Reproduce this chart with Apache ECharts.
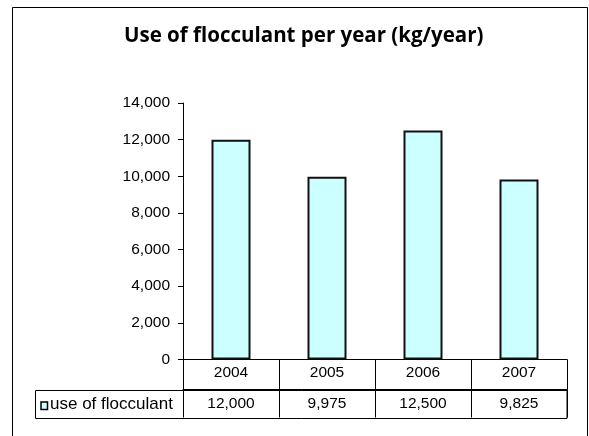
<!DOCTYPE html>
<html>
<head>
<meta charset="utf-8">
<script src="https://cdn.jsdelivr.net/npm/echarts@6/dist/echarts.min.js"></script>
<style>
  html, body { margin: 0; padding: 0; background: #fff; }
  #chart { width: 589px; height: 436px; }
</style>
</head>
<body>
<div id="chart"></div>
<script>
// Flocculant consumption per year, shown as columns with a data table underneath
const years = ['2004', '2005', '2006', '2007'];
const flocculantUse = [12000, 9975, 12500, 9825];
const yTicks = { min: 0, max: 14000, interval: 2000 };
const seriesName = 'use of flocculant';
const chartTitle = 'Use of flocculant per year (kg/year)';

const TEXT_FONT = '"Liberation Sans", Arial, sans-serif';
const TEXT_SIZE = 15.5;
const BAR_FILL = '#CCFFFF';
const fmt = v => v.toLocaleString('en-US');

const chart = echarts.init(document.getElementById('chart'), null, { renderer: 'canvas' });

const option = {
  backgroundColor: '#fff',
  animation: false,
  title: {
    text: chartTitle,
    left: 119,
    top: 21,
    textStyle: {
      fontFamily: '"Open Sans", sans-serif',
      fontWeight: 'bold',
      fontSize: 20.5,
      color: '#000'
    }
  },
  grid: { left: 183, right: 22, top: 103, bottom: 76.5 },
  xAxis: [
    {
      // year row of the data table
      type: 'category',
      data: years,
      position: 'bottom',
      axisLine: { lineStyle: { color: '#000', width: 1 } },
      axisTick: { show: true, length: 30, interval: 0, lineStyle: { color: '#000', width: 1 } },
      axisLabel: {
        interval: 0, margin: 13, verticalAlign: 'middle',
        fontFamily: TEXT_FONT, fontSize: TEXT_SIZE, color: '#000'
      },
      splitLine: { show: false }
    },
    {
      // value row of the data table
      type: 'category',
      data: years,
      position: 'bottom',
      offset: 30,
      axisLine: { lineStyle: { color: '#000', width: 1 } },
      axisTick: { show: true, length: 28, interval: 0, lineStyle: { color: '#000', width: 1 } },
      axisLabel: {
        interval: 0, margin: 14.5, verticalAlign: 'middle',
        fontFamily: TEXT_FONT, fontSize: TEXT_SIZE, color: '#000',
        formatter: (val, idx) => fmt(flocculantUse[idx])
      },
      splitLine: { show: false }
    }
  ],
  yAxis: {
    type: 'value',
    min: yTicks.min,
    max: yTicks.max,
    interval: yTicks.interval,
    axisLine: { show: true, lineStyle: { color: '#000', width: 1 } },
    axisTick: { show: true, length: 5, lineStyle: { color: '#000', width: 1 } },
    axisLabel: {
      margin: 13, fontFamily: TEXT_FONT, fontSize: TEXT_SIZE, color: '#000',
      formatter: v => fmt(v)
    },
    splitLine: { show: false }
  },
  series: [{
    name: seriesName,
    type: 'bar',
    xAxisIndex: 0,
    data: flocculantUse,
    barWidth: 39,
    itemStyle: { color: BAR_FILL, borderColor: '#111', borderWidth: 2 }
  }]
};

chart.setOption(option);

// Table frame, legend cell and outer chart border, placed from the axis scales
const c0 = chart.convertToPixel({ xAxisIndex: 0 }, years[0]);
const c1 = chart.convertToPixel({ xAxisIndex: 0 }, years[1]);
const band = c1 - c0;
const tableLeftX = c0 - band / 2;
const tableRightX = tableLeftX + band * years.length;
const zeroY = chart.convertToPixel({ yAxisIndex: 0 }, 0);
const rowTop = zeroY + 30;
const rowH = 28;
const legendCellLeft = 35.5;

chart.setOption({
  graphic: [
    {
      type: 'rect',
      shape: { x: 12.5, y: 7.5, width: 575, height: 450 },
      style: { fill: null, stroke: '#000', lineWidth: 1 },
      silent: true, z: -1
    },
    {
      type: 'rect',
      shape: { x: legendCellLeft, y: Math.round(rowTop) + 0.5, width: Math.round(tableRightX) - legendCellLeft, height: rowH },
      style: { fill: null, stroke: '#000', lineWidth: 1 },
      silent: true
    },
    {
      type: 'line',
      shape: { x1: Math.round(tableLeftX) + 0.5, y1: Math.round(zeroY), x2: Math.round(tableLeftX) + 0.5, y2: Math.round(rowTop) + 0.5 },
      style: { stroke: '#000', lineWidth: 1 },
      silent: true
    },
    {
      type: 'rect',
      shape: { x: 41, y: rowTop + 12.5, width: 6.5, height: 7.5 },
      style: { fill: BAR_FILL, stroke: '#000', lineWidth: 1.5 },
      silent: true
    },
    {
      type: 'text',
      x: 50,
      y: rowTop + rowH / 2 + 1,
      style: {
        text: seriesName,
        fontFamily: TEXT_FONT, fontSize: 17, fill: '#000',
        verticalAlign: 'middle', align: 'left'
      },
      silent: true
    }
  ]
});
</script>
</body>
</html>
